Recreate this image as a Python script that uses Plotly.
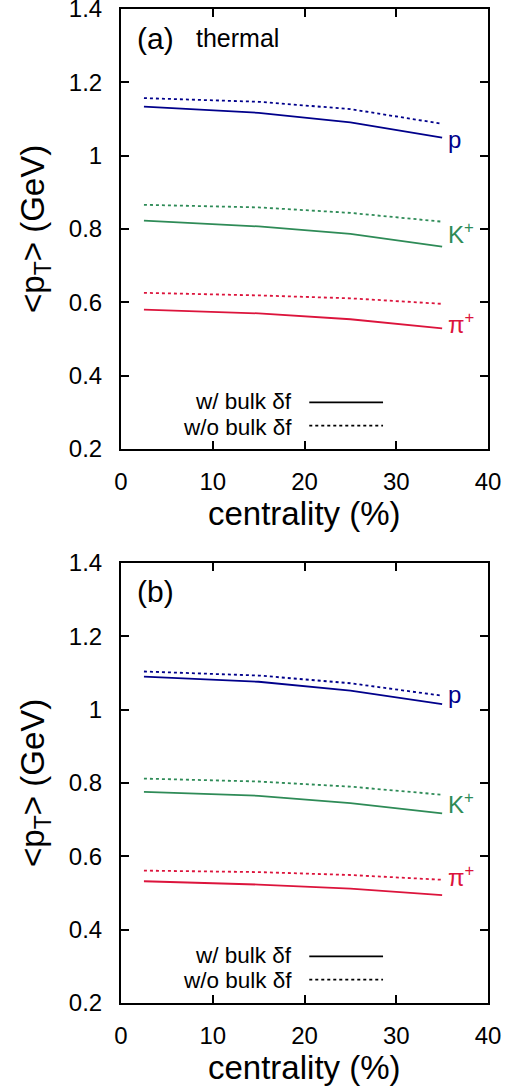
import plotly.graph_objects as go

centrality = [2.5, 15, 25, 35]

# panel (a): thermal
a_p_bulk = [1.134, 1.117, 1.091, 1.049]
a_p_nobulk = [1.157, 1.147, 1.127, 1.087]
a_k_bulk = [0.823, 0.807, 0.787, 0.752]
a_k_nobulk = [0.866, 0.859, 0.844, 0.820]
a_pi_bulk = [0.580, 0.570, 0.554, 0.529]
a_pi_nobulk = [0.626, 0.619, 0.611, 0.596]

# panel (b)
b_p_bulk = [1.090, 1.076, 1.052, 1.015]
b_p_nobulk = [1.104, 1.093, 1.072, 1.038]
b_k_bulk = [0.776, 0.765, 0.745, 0.717]
b_k_nobulk = [0.812, 0.804, 0.790, 0.768]
b_pi_bulk = [0.532, 0.523, 0.512, 0.494]
b_pi_nobulk = [0.561, 0.557, 0.549, 0.536]

species = ["p", "K<sup>+</sup>", "π<sup>+</sup>"]
colors = ["#00008b", "#2e8b57", "#dc143c"]
label_y_a = [1.044, 0.790, 0.545]
label_y_b = [1.040, 0.745, 0.545]

x_ticks = [0, 10, 20, 30, 40]
y_ticks = [0.2, 0.4, 0.6, 0.8, 1.0, 1.2, 1.4]
y_ticklabels = ["0.2", "0.4", "0.6", "0.8", "1", "1.2", "1.4"]

FONT = "Liberation Sans, Arial, Helvetica, sans-serif"
DOT = "3px,3px"

fig = go.Figure()

panels = [
    ("x", "y", [a_p_bulk, a_k_bulk, a_pi_bulk], [a_p_nobulk, a_k_nobulk, a_pi_nobulk], label_y_a),
    ("x2", "y2", [b_p_bulk, b_k_bulk, b_pi_bulk], [b_p_nobulk, b_k_nobulk, b_pi_nobulk], label_y_b),
]

for xa, ya, bulk, nobulk, laby in panels:
    for i in range(3):
        fig.add_trace(go.Scatter(x=centrality, y=nobulk[i], mode="lines", xaxis=xa, yaxis=ya,
                                 line=dict(color=colors[i], width=1.8, dash=DOT), showlegend=False,
                                 hoverinfo="skip"))
        fig.add_trace(go.Scatter(x=centrality, y=bulk[i], mode="lines", xaxis=xa, yaxis=ya,
                                 line=dict(color=colors[i], width=1.8), showlegend=False,
                                 hoverinfo="skip"))
        fig.add_annotation(x=35.4, y=laby[i], xref=xa, yref=ya, text=species[i], showarrow=False,
                           xanchor="left", yanchor="middle",
                           font=dict(family=FONT, size=24, color=colors[i]))

axis_common = dict(
    showline=True, linewidth=2, linecolor="black", mirror="ticks",
    ticks="inside", ticklen=8, tickwidth=1.5, tickcolor="black",
    showgrid=False, zeroline=False, automargin=False, ticklabeloverflow="allow",
    tickfont=dict(family=FONT, size=24, color="black"),
)

fig.update_layout(
    width=517, height=1087,
    margin=dict(l=121, r=29, t=9, b=84, autoexpand=False),
    paper_bgcolor="white", plot_bgcolor="white",
    xaxis=dict(domain=[0, 1], range=[0, 40], tickvals=x_ticks, anchor="y", ticklabelstandoff=10, **axis_common),
    yaxis=dict(domain=[0.5573, 1.0], range=[0.2, 1.4], tickvals=y_ticks, ticktext=y_ticklabels,
               anchor="x", ticklabelstandoff=12, **axis_common),
    xaxis2=dict(domain=[0, 1], range=[0, 40], tickvals=x_ticks, anchor="y2", ticklabelstandoff=10, **axis_common),
    yaxis2=dict(domain=[0, 0.4427], range=[0.2, 1.4], tickvals=y_ticks, ticktext=y_ticklabels,
                anchor="x2", ticklabelstandoff=12, **axis_common),
    showlegend=False,
)

for xa, ya, tag in [("x", "y", "(a)"), ("x2", "y2", "(b)")]:
    xd, yd = xa + " domain", ya + " domain"
    fig.add_annotation(x=0.038, y=0.934, xref=xd, yref=yd, text=tag, showarrow=False,
                       xanchor="left", yanchor="middle", font=dict(family=FONT, size=30, color="black"))
    # legend
    fig.add_annotation(x=0.472, y=0.107, xref=xd, yref=yd, text="w/ bulk δf", showarrow=False,
                       xanchor="right", yanchor="middle", font=dict(family=FONT, size=22.5, color="black"))
    fig.add_annotation(x=0.472, y=0.050, xref=xd, yref=yd, text="w/o bulk δf", showarrow=False,
                       xanchor="right", yanchor="middle", font=dict(family=FONT, size=22.5, color="black"))
    fig.add_shape(type="line", xref=xd, yref=yd, x0=0.513, x1=0.714, y0=0.106, y1=0.106,
                  line=dict(color="black", width=1.8))
    fig.add_shape(type="line", xref=xd, yref=yd, x0=0.513, x1=0.714, y0=0.053, y1=0.053,
                  line=dict(color="black", width=1.8, dash=DOT))
    # axis titles
    fig.add_annotation(x=0.5, y=-0.1455, xref=xd, yref=yd, text="centrality (%)", showarrow=False,
                       xanchor="center", yanchor="middle", font=dict(family=FONT, size=33, color="black"))
    fig.add_annotation(x=-0.2345, y=0.5, xref=xd, yref=yd, text="&lt;p<sub>T</sub>&gt; (GeV)",
                       showarrow=False, textangle=-90, xanchor="center", yanchor="middle",
                       font=dict(family=FONT, size=33, color="black"))

fig.add_annotation(x=0.198, y=0.934, xref="x domain", yref="y domain", text="thermal", showarrow=False,
                   xanchor="left", yanchor="middle", font=dict(family=FONT, size=25, color="black"))

fig.write_html("out.html", config={"displayModeBar": False},
               post_script="document.body.style.margin='0';document.body.style.overflow='hidden';")
